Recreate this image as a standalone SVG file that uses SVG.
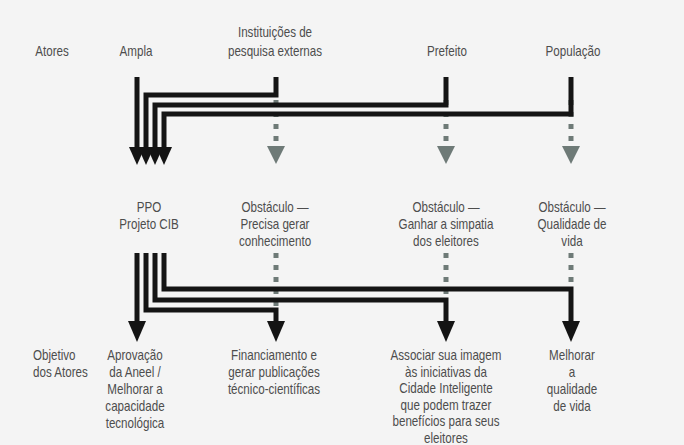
<svg xmlns="http://www.w3.org/2000/svg" width="684" height="445" viewBox="0 0 684 445">
<style>
text{font-family:"Liberation Sans",Arial,sans-serif;font-size:14.5px;fill:#4d4d4d;text-anchor:middle}
.l{text-anchor:start}
.blk{fill:none;stroke:#141414;stroke-width:5;stroke-linejoin:miter}
.gr{fill:none;stroke:#6e7a77;stroke-width:5;stroke-dasharray:5 7}
.hb{fill:#141414}
.hg{fill:#6e7a77}
</style>
<rect width="684" height="445" fill="#f4f4f4"/>
<g id="connectors">
<path class="gr" d="M276,100V146M446,100V146M571,100V146"/>
<polygon class="hg" points="267,146 285,146 276,164"/>
<polygon class="hg" points="437,146 455,146 446,164"/>
<polygon class="hg" points="562,146 580,146 571,164"/>
<path class="blk" d="M137,77V150"/>
<path class="blk" d="M276,77V95H146V150"/>
<path class="blk" d="M446,77V105H155V150"/>
<path class="blk" d="M571,77V114H164V150"/>
<polygon class="hb" points="129,147 145,147 137,165"/>
<polygon class="hb" points="138,147 154,147 146,165"/>
<polygon class="hb" points="147,147 163,147 155,165"/>
<polygon class="hb" points="156,147 172,147 164,165"/>
<path class="gr" d="M276,253V310M446,253V300M571,253V289"/>
<path class="blk" d="M137,253V324"/>
<path class="blk" d="M146,253V310H276V324"/>
<path class="blk" d="M155,253V300H446V324"/>
<path class="blk" d="M164,253V289H571V324"/>
<polygon class="hb" points="128,321 146,321 137,342"/>
<polygon class="hb" points="267,321 285,321 276,342"/>
<polygon class="hb" points="437,321 455,321 446,342"/>
<polygon class="hb" points="562,321 580,321 571,342"/>
</g>
<g id="row-atores" transform="scale(0.8 1)"><text x="65" y="56">Atores</text></g>
<g id="ampla" transform="scale(0.8 1)"><text x="170" y="56">Ampla</text></g>
<g id="instituicoes" transform="scale(0.8 1)"><text x="343.75" y="37">Instituições de</text><text x="343.75" y="56">pesquisa externas</text></g>
<g id="prefeito" transform="scale(0.8 1)"><text x="558.75" y="56">Prefeito</text></g>
<g id="populacao" transform="scale(0.8 1)"><text x="716.25" y="56">População</text></g>
<g id="ppo" transform="scale(0.8 1)"><text x="186.25" y="212">PPO</text><text x="186.25" y="229">Projeto CIB</text></g>
<g id="obst-inst" transform="scale(0.8 1)"><text x="343.75" y="212">Obstáculo —</text><text x="343.75" y="229">Precisa gerar</text><text x="343.75" y="246">conhecimento</text></g>
<g id="obst-pref" transform="scale(0.8 1)"><text x="557.5" y="212">Obstáculo —</text><text x="557.5" y="229">Ganhar a simpatia</text><text x="557.5" y="246">dos eleitores</text></g>
<g id="obst-pop" transform="scale(0.8 1)"><text x="715" y="212">Obstáculo —</text><text x="715" y="229">Qualidade de</text><text x="715" y="246">vida</text></g>
<g id="row-objetivo" transform="scale(0.8 1)"><text class="l" x="41.25" y="360">Objetivo</text><text class="l" x="41.25" y="377">dos Atores</text></g>
<g id="obj-ampla" transform="scale(0.8 1)"><text x="168.75" y="360">Aprovação</text><text x="168.75" y="377">da Aneel /</text><text x="168.75" y="394">Melhorar a</text><text x="168.75" y="411">capacidade</text><text x="168.75" y="428">tecnológica</text></g>
<g id="obj-inst" transform="scale(0.8 1)"><text x="342.5" y="360">Financiamento e</text><text x="342.5" y="377">gerar publicações</text><text x="342.5" y="394">técnico-científicas</text></g>
<g id="obj-pref" transform="scale(0.8 1)"><text x="557.5" y="360">Associar sua imagem</text><text x="557.5" y="376.6">às iniciativas da</text><text x="557.5" y="393.2">Cidade Inteligente</text><text x="557.5" y="409.8">que podem trazer</text><text x="557.5" y="426.4">benefícios para seus</text><text x="557.5" y="443">eleitores</text></g>
<g id="obj-pop" transform="scale(0.8 1)"><text x="715" y="360">Melhorar</text><text x="715" y="377">a</text><text x="715" y="394">qualidade</text><text x="715" y="411">de vida</text></g>
</svg>
